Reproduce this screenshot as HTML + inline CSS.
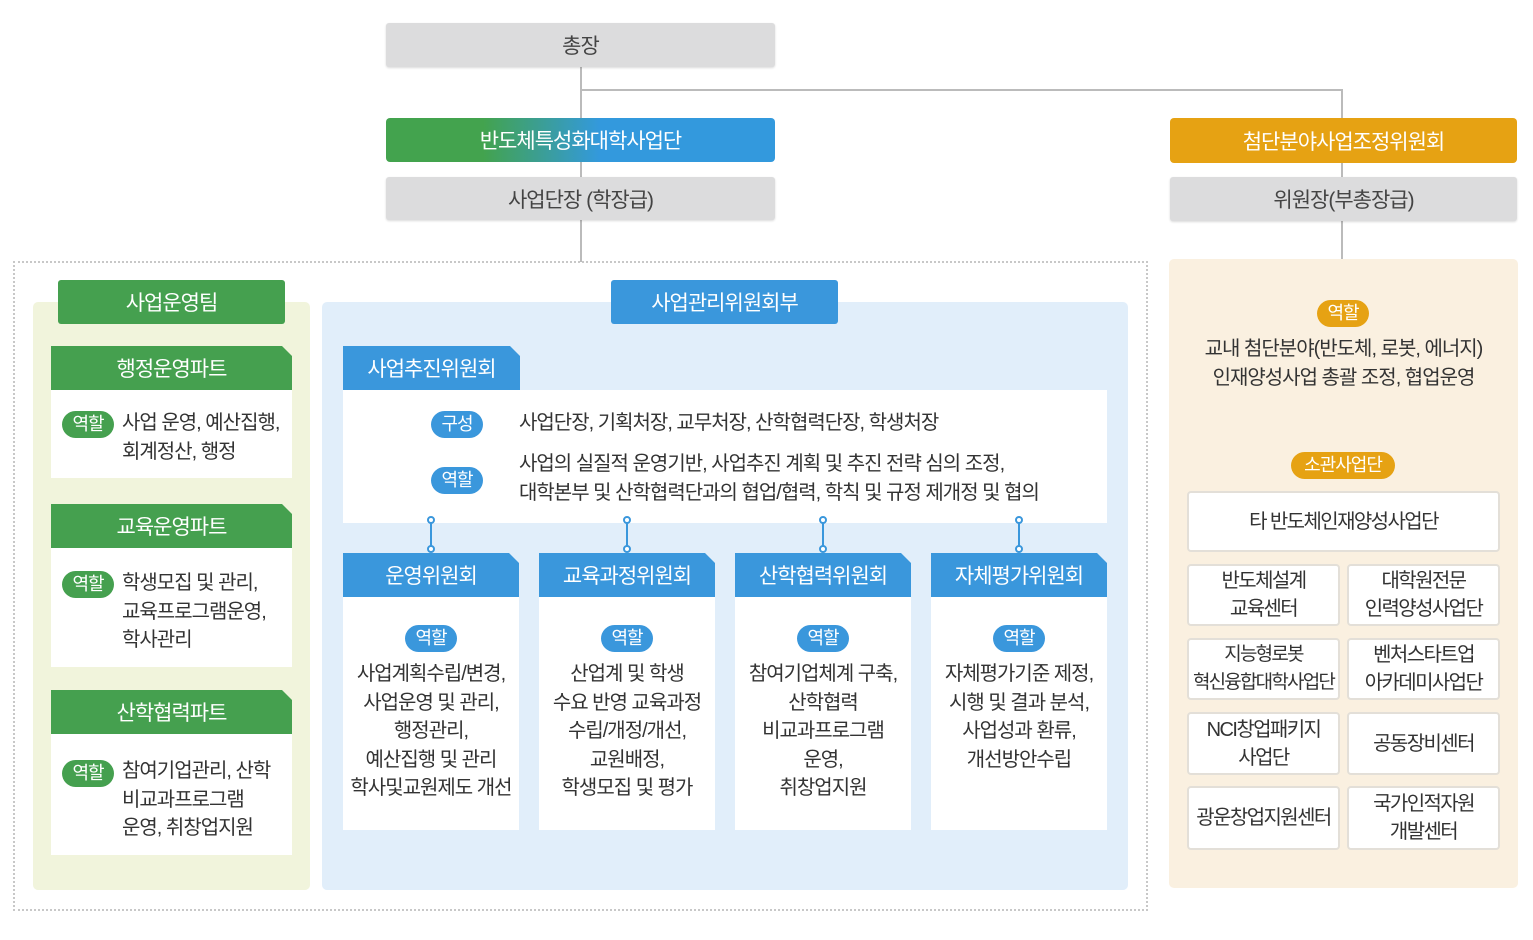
<!DOCTYPE html>
<html><head><meta charset="utf-8"><style>
*{margin:0;padding:0;box-sizing:border-box}
body{width:1533px;height:940px;background:#fff;position:relative;overflow:hidden;font-family:"Liberation Sans","Noto Sans CJK KR",sans-serif;color:#333;letter-spacing:-1px}
.a{position:absolute}
.c{display:flex;align-items:center;justify-content:center;text-align:center}
.gray{background:#dcdcdd;border-radius:3px;font-size:21px;color:#444;box-shadow:0 1px 2px rgba(0,0,0,.15)}
.hd{color:#fff;font-size:21px;clip-path:polygon(0 0,calc(100% - 10px) 0,100% 10px,100% 100%,0 100%)}
.g{background:#45a04f}
.b{background:#3a97dc}
.w{background:#fff}
.t{font-size:20px;line-height:28.5px;color:#333}
.pill{border-radius:14px;color:#fff;font-size:18px;height:27px;line-height:27px;text-align:center;width:52px}
.ln{background:#bbb}
.rb{background:#fff;border:2px solid #e3dfd8;border-radius:4px;font-size:20px;line-height:28px;color:#333;white-space:nowrap;letter-spacing:-1.6px}
</style></head><body>
<div class="a ln" style="left:580px;top:67px;width:2px;height:195px"></div>
<div class="a ln" style="left:580px;top:89px;width:763px;height:2px"></div>
<div class="a ln" style="left:1341px;top:89px;width:2px;height:170px"></div>

<div class="a c gray" style="left:386px;top:23px;width:389px;height:44px">총장</div>
<div class="a c" style="left:386px;top:118px;width:389px;height:44px;border-radius:4px;color:#fff;font-size:21px;background:linear-gradient(90deg,#43a34e 0%,#43a34e 25%,#3399dd 55%,#3399dd 100%)">반도체특성화대학사업단</div>
<div class="a c gray" style="left:386px;top:177px;width:389px;height:43px">사업단장 (학장급)</div>

<div class="a c" style="left:1170px;top:118px;width:347px;height:45px;background:#e6a213;border-radius:4px;color:#fff;font-size:21px">첨단분야사업조정위원회</div>
<div class="a c gray" style="left:1170px;top:177px;width:347px;height:44px">위원장(부총장급)</div>

<div class="a" style="left:13px;top:261px;width:1135px;height:650px;border:2px dotted #c8c8c8"></div>

<div class="a" style="left:33px;top:302px;width:277px;height:588px;background:#f1f4dc;border-radius:5px"></div>
<div class="a c g" style="left:58px;top:280px;width:227px;height:44px;color:#fff;font-size:21px;border-radius:3px">사업운영팀</div>

<div class="a c hd g" style="left:51px;top:346px;width:241px;height:44px">행정운영파트</div>
<div class="a w" style="left:51px;top:390px;width:241px;height:88px"></div>
<div class="a pill g" style="left:62px;top:411px">역할</div>
<div class="a t" style="left:122px;top:409px">사업 운영, 예산집행,<br>회계정산, 행정</div>

<div class="a c hd g" style="left:51px;top:504px;width:241px;height:44px">교육운영파트</div>
<div class="a w" style="left:51px;top:548px;width:241px;height:119px"></div>
<div class="a pill g" style="left:62px;top:571px">역할</div>
<div class="a t" style="left:122px;top:569px">학생모집 및 관리,<br>교육프로그램운영,<br>학사관리</div>

<div class="a c hd g" style="left:51px;top:690px;width:241px;height:44px">산학협력파트</div>
<div class="a w" style="left:51px;top:734px;width:241px;height:121px"></div>
<div class="a pill g" style="left:62px;top:760px">역할</div>
<div class="a t" style="left:122px;top:757px">참여기업관리, 산학<br>비교과프로그램<br>운영, 취창업지원</div>

<div class="a" style="left:322px;top:302px;width:806px;height:588px;background:#e1eefa;border-radius:5px"></div>
<div class="a c b" style="left:611px;top:280px;width:227px;height:44px;color:#fff;font-size:21px;border-radius:3px">사업관리위원회부</div>

<div class="a c hd b" style="left:343px;top:346px;width:177px;height:44px">사업추진위원회</div>
<div class="a w" style="left:343px;top:390px;width:764px;height:133px"></div>
<div class="a pill b" style="left:431px;top:411px">구성</div>
<div class="a t" style="left:519px;top:409px">사업단장, 기획처장, 교무처장, 산학협력단장, 학생처장</div>
<div class="a pill b" style="left:431px;top:467px">역할</div>
<div class="a t" style="left:519px;top:450px">사업의 실질적 운영기반, 사업추진 계획 및 추진 전략 심의 조정,<br>대학본부 및 산학협력단과의 협업/협력, 학칙 및 규정 제개정 및 협의</div>

<svg class="a" style="left:0;top:0" width="1533" height="940">
<g stroke="#3a97dc" stroke-width="2" fill="#fff">
<line x1="431" y1="523" x2="431" y2="549"/><circle cx="431" cy="520" r="3"/><circle cx="431" cy="549" r="3"/>
<line x1="627" y1="523" x2="627" y2="549"/><circle cx="627" cy="520" r="3"/><circle cx="627" cy="549" r="3"/>
<line x1="823" y1="523" x2="823" y2="549"/><circle cx="823" cy="520" r="3"/><circle cx="823" cy="549" r="3"/>
<line x1="1019" y1="523" x2="1019" y2="549"/><circle cx="1019" cy="520" r="3"/><circle cx="1019" cy="549" r="3"/>
</g></svg>

<div class="a c hd b" style="left:343px;top:553px;width:176px;height:44px">운영위원회</div>
<div class="a w" style="left:343px;top:597px;width:176px;height:233px"></div>
<div class="a pill b" style="left:405px;top:625px">역할</div>
<div class="a t" style="left:343px;top:660px;width:176px;text-align:center">사업계획수립/변경,<br>사업운영 및 관리,<br>행정관리,<br>예산집행 및 관리<br>학사및교원제도 개선</div>

<div class="a c hd b" style="left:539px;top:553px;width:176px;height:44px">교육과정위원회</div>
<div class="a w" style="left:539px;top:597px;width:176px;height:233px"></div>
<div class="a pill b" style="left:601px;top:625px">역할</div>
<div class="a t" style="left:539px;top:660px;width:176px;text-align:center">산업계 및 학생<br>수요 반영 교육과정<br>수립/개정/개선,<br>교원배정,<br>학생모집 및 평가</div>

<div class="a c hd b" style="left:735px;top:553px;width:176px;height:44px">산학협력위원회</div>
<div class="a w" style="left:735px;top:597px;width:176px;height:233px"></div>
<div class="a pill b" style="left:797px;top:625px">역할</div>
<div class="a t" style="left:735px;top:660px;width:176px;text-align:center">참여기업체계 구축,<br>산학협력<br>비교과프로그램<br>운영,<br>취창업지원</div>

<div class="a c hd b" style="left:931px;top:553px;width:176px;height:44px">자체평가위원회</div>
<div class="a w" style="left:931px;top:597px;width:176px;height:233px"></div>
<div class="a pill b" style="left:993px;top:625px">역할</div>
<div class="a t" style="left:931px;top:660px;width:176px;text-align:center">자체평가기준 제정,<br>시행 및 결과 분석,<br>사업성과 환류,<br>개선방안수립</div>

<div class="a" style="left:1169px;top:259px;width:349px;height:629px;background:#faf0e0;border-radius:5px"></div>
<div class="a pill" style="left:1317px;top:300px;background:#e6a213">역할</div>
<div class="a t" style="left:1169px;top:335px;width:349px;text-align:center">교내 첨단분야(반도체, 로봇, 에너지)<br>인재양성사업 총괄 조정, 협업운영</div>
<div class="a pill" style="left:1291px;top:452px;width:104px;background:#e6a213">소관사업단</div>
<div class="a c rb" style="left:1187px;top:491px;width:313px;height:61px">타 반도체인재양성사업단</div>
<div class="a c rb" style="left:1187px;top:564px;width:153px;height:62px">반도체설계<br>교육센터</div>
<div class="a c rb" style="left:1347px;top:564px;width:153px;height:62px">대학원전문<br>인력양성사업단</div>
<div class="a c rb" style="left:1187px;top:638px;width:153px;height:62px;font-size:19px;letter-spacing:-1.8px">지능형로봇<br>혁신융합대학사업단</div>
<div class="a c rb" style="left:1347px;top:638px;width:153px;height:62px">벤처스타트업<br>아카데미사업단</div>
<div class="a c rb" style="left:1187px;top:712px;width:153px;height:63px">NCI창업패키지<br>사업단</div>
<div class="a c rb" style="left:1347px;top:712px;width:153px;height:63px">공동장비센터</div>
<div class="a c rb" style="left:1187px;top:786px;width:153px;height:64px">광운창업지원센터</div>
<div class="a c rb" style="left:1347px;top:786px;width:153px;height:64px">국가인적자원<br>개발센터</div>
</body></html>
